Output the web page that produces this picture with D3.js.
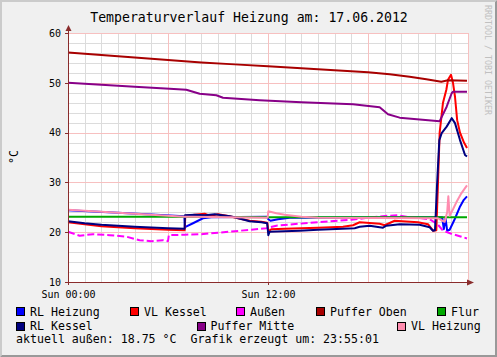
<!DOCTYPE html>
<html><head><meta charset="utf-8">
<script src="https://cdn.jsdelivr.net/npm/d3@7"></script>
<style>
html,body{margin:0;padding:0;background:#F0F0F0;}
svg{display:block;}
text{font-family:"DejaVu Sans Mono",monospace;white-space:pre;}
</style></head><body>
<script>
// ---- data (hours since Sun 00:00, °C) ----
const title = "Temperaturverlauf Heizung am: 17.06.2012";
const yLabel = "°C";
const yTicks = [10, 20, 30, 40, 50, 60];
const xTicks = [0, 12];
const xTickLabels = ["Sun 00:00", "Sun 12:00"];
const seriesNames = ["RL Heizung","VL Kessel","Außen","Puffer Oben","Flur","RL Kessel","Puffer Mitte","VL Heizung"];
const seriesColors = ["#0000FF","#FF0000","#FF00FF","#A80000","#00A800","#000080","#880088","#FF8CAF"];
const footer = "aktuell außen: 18.75 °C  Grafik erzeugt um: 23:55:01";

const rlHeizung = [[0,24.4],[3,23.9],[6.98,23.2],[7.02,21.0],[7.5,21.8],[8.1,22.8],[8.6,23.0],[11.95,23.1],[12.02,22.6],[12.15,22.3],[12.6,22.6],[13.3,22.9],[22.45,23.0],[22.55,20.6],[22.65,22.8],[22.75,20.3],[22.9,20.5],[23.2,22.6],[23.5,25.0],[23.75,26.5],[23.94,27.2]];
const vlKessel = [[0,22.0],[1,21.6],[2,21.2],[4,20.8],[6,20.5],[7.0,20.4],[7.04,23.3],[7.6,23.5],[8.2,23.7],[8.5,23.3],[9.0,23.6],[9.7,23.2],[10.2,22.8],[10.9,22.3],[11.6,22.1],[11.95,21.9],[12.03,20.2],[12.2,20.6],[13,20.7],[15,20.9],[16.5,21.1],[17.1,21.4],[17.5,22.0],[18.7,21.7],[19.0,21.4],[19.6,22.3],[21.0,22.0],[21.6,21.6],[21.9,20.3],[22.1,20.4],[22.2,30.0],[22.3,40.0],[22.5,46.0],[22.7,48.6],[22.8,50.6],[22.98,51.6],[23.1,50.0],[23.22,47.2],[23.35,42.5],[23.52,40.0],[23.76,38.0],[23.94,36.9]];
const aussen = [[0,20.1],[0.7,19.3],[1.5,19.6],[2.5,19.4],[3.5,19.1],[4.3,18.4],[5,18.2],[5.7,18.4],[6.0,18.2],[6.05,19.4],[7,19.5],[8,19.6],[9,19.9],[10,20.2],[11,20.5],[11.9,20.8],[12.5,21.3],[13.5,21.6],[15,22.0],[17,22.5],[18,22.9],[19.2,23.3],[19.8,23.4],[20.3,23.1],[21,22.9],[21.7,22.6],[22.2,21.5],[22.5,20.3],[23,19.7],[23.5,19.2],[23.94,18.75]];
const pufferOben = [[0,56.1],[2,55.6],[4,55.1],[6,54.6],[8,54.1],[10,53.7],[12,53.3],[14,52.9],[16,52.5],[18,52.1],[19.3,51.7],[20.5,51.2],[21.5,50.7],[22.4,50.2],[22.8,50.5],[23.94,50.4]];
const flur = [[0,23.1],[6,23.1],[12,23.0],[18,23.0],[23.94,23.0]];
const rlKessel = [[0,22.2],[1,21.8],[2,21.5],[4,21.1],[6,20.8],[7.0,20.7],[7.02,23.4],[7.6,23.5],[8.2,23.4],[8.8,23.6],[9.7,23.2],[10.0,23.0],[10.9,22.2],[11.6,22.0],[11.95,21.8],[12.02,19.4],[12.1,20.1],[13.9,20.3],[15,20.5],[17.2,20.8],[17.5,21.1],[18.1,21.3],[18.9,20.9],[19.1,21.3],[19.9,21.6],[21.1,21.5],[21.7,21.0],[21.9,20.3],[22.02,20.4],[22.14,29.3],[22.28,38.5],[22.42,39.9],[22.72,41.2],[23.02,42.9],[23.22,41.9],[23.52,38.5],[23.82,35.5],[23.94,35.2]];
const pufferMitte = [[0,50.0],[2,49.6],[4,49.2],[6.1,48.8],[7.1,48.6],[7.9,47.8],[8.9,47.5],[9.3,47.0],[11.5,46.5],[14,46.1],[17.1,45.7],[18.7,45.1],[19.2,43.7],[19.9,43.0],[22.3,42.3],[22.72,45.2],[23.02,47.9],[23.1,48.2],[23.94,48.2]];
const vlHeizung = [[0,24.5],[3,23.9],[7,23.1],[7.5,23.1],[11.98,22.9],[12.02,24.2],[12.5,23.8],[13,23.5],[14,23.1],[15,22.9],[22.2,22.8],[22.4,22.4],[22.6,22.1],[22.75,24.0],[22.82,27.2],[22.9,23.3],[23.1,24.6],[23.3,26.0],[23.6,27.8],[23.94,29.4]];

const seriesData = [rlHeizung, vlKessel, aussen, pufferOben, flur, rlKessel, pufferMitte, vlHeizung];

// ---- layout ----
const W = 497, H = 357;
const svg = d3.select("body").append("svg").attr("width", W).attr("height", H);

// frame shading
svg.append("rect").attr("x",0).attr("y",0).attr("width",W).attr("height",H).attr("fill","#F0F0F0");
svg.append("path").attr("d",`M0,${H} L0,0 L${W},0 L${W-2},2 L2,2 L2,${H-2} Z`).attr("fill","#CBCBCB");
svg.append("path").attr("d",`M${W},0 L${W},${H} L0,${H} L2,${H-2} L${W-2},${H-2} L${W-2},2 Z`).attr("fill","#999999");

const x = d3.scaleLinear().domain([0,24]).range([68,468]);
const y = d3.scaleLinear().domain([10,60]).range([282,33]);

// canvas
svg.append("rect").attr("x",68).attr("y",33).attr("width",400).attr("height",249).attr("fill","#FFFFFF");

const grid = svg.append("g").attr("shape-rendering","crispEdges");
// minor grid
d3.range(0,25,1).forEach(h=>{
  if (h%6!==0) grid.append("line").attr("x1",Math.round(x(h))+0.5).attr("x2",Math.round(x(h))+0.5).attr("y1",33).attr("y2",282).attr("stroke","#DCDCDC");
});
d3.range(10,61,2).forEach(v=>{
  if (v%10!==0) grid.append("line").attr("x1",68).attr("x2",468).attr("y1",Math.round(y(v))+0.5).attr("y2",Math.round(y(v))+0.5).attr("stroke","#DCDCDC");
});
// major grid
d3.range(6,25,6).forEach(h=>{
  grid.append("line").attr("x1",Math.round(x(h))+0.5).attr("x2",Math.round(x(h))+0.5).attr("y1",33).attr("y2",282).attr("stroke","#F7C0C0");
});
yTicks.forEach(v=>{
  if (v>10) grid.append("line").attr("x1",68).attr("x2",468).attr("y1",Math.round(y(v))+0.5).attr("y2",Math.round(y(v))+0.5).attr("stroke","#F7C0C0");
});

// series lines
const line = d3.line().x(d=>x(d[0])).y(d=>y(d[1]));
const plot = svg.append("g");
seriesData.forEach((data,i)=>{
  plot.append("path").datum(data).attr("d",line).attr("fill","none")
    .attr("stroke",seriesColors[i]).attr("stroke-width",2)
    .attr("stroke-linejoin","round")
    .attr("stroke-dasharray", seriesNames[i]==="Außen" ? "7,3" : null);
});

// axes
const axisColor = "#8A2C2C";
const yAxis = svg.append("g").attr("transform","translate(68,0)")
  .call(d3.axisLeft(y).tickValues(yTicks).tickSize(3).tickPadding(4).tickFormat(d3.format("d")));
yAxis.select(".domain").remove();
yAxis.selectAll("line").attr("stroke",axisColor).attr("shape-rendering","crispEdges");
yAxis.selectAll("text").attr("font-size","10px").attr("font-family","DejaVu Sans Mono").attr("fill","#000");

const xAxis = svg.append("g").attr("transform","translate(0,282)")
  .call(d3.axisBottom(x).tickValues(xTicks).tickSize(3).tickPadding(6).tickFormat((d,i)=>xTickLabels[i]));
xAxis.select(".domain").remove();
xAxis.selectAll("line").attr("stroke",axisColor).attr("shape-rendering","crispEdges");
xAxis.selectAll("text").attr("font-size","10px").attr("font-family","DejaVu Sans Mono").attr("fill","#000");

// axis lines with arrows
svg.append("line").attr("x1",68.5).attr("x2",68.5).attr("y1",285).attr("y2",29).attr("stroke",axisColor).attr("shape-rendering","crispEdges");
svg.append("path").attr("d","M65.5,31 L68.5,25 L71.5,31 Z").attr("fill",axisColor);
svg.append("line").attr("x1",65).attr("x2",469).attr("y1",282.5).attr("y2",282.5).attr("stroke",axisColor).attr("shape-rendering","crispEdges");
svg.append("path").attr("d","M467,279.5 L474,282.5 L467,285.5 Z").attr("fill",axisColor);

// title
svg.append("text").attr("x",249).attr("y",21.5).attr("text-anchor","middle")
  .attr("font-size","13.2px").attr("fill","#000").text(title);

// y label
svg.append("text").attr("transform","translate(18,157) rotate(-90)").attr("text-anchor","middle")
  .attr("font-size","11.6px").attr("fill","#000").text(yLabel);

// watermark
svg.append("text").attr("transform","translate(485,5) rotate(90)").attr("text-anchor","start")
  .attr("font-size","8.3px").attr("fill","#C0C0C0").text("RRDTOOL / TOBI OETIKER");

// legend
const legendPos = [[16,307],[130,307],[236,307],[316,307],[437,307],[16,321.5],[196.5,321.5],[397,321.5]];
const leg = svg.append("g");
seriesNames.forEach((n,i)=>{
  const [lx,ly] = legendPos[i];
  leg.append("rect").attr("x",lx+0.5).attr("y",ly+0.5).attr("width",8).attr("height",8)
    .attr("fill",seriesColors[i]).attr("stroke","#000").attr("stroke-width",1).attr("shape-rendering","crispEdges");
  leg.append("text").attr("x",lx+14).attr("y",ly+8.5).attr("font-size","11.6px").attr("fill","#000").text(n);
});
svg.append("text").attr("x",16).attr("y",343).attr("font-size","11.6px").attr("fill","#000")
  .attr("xml:space","preserve").text(footer);
</script>
</body></html>
